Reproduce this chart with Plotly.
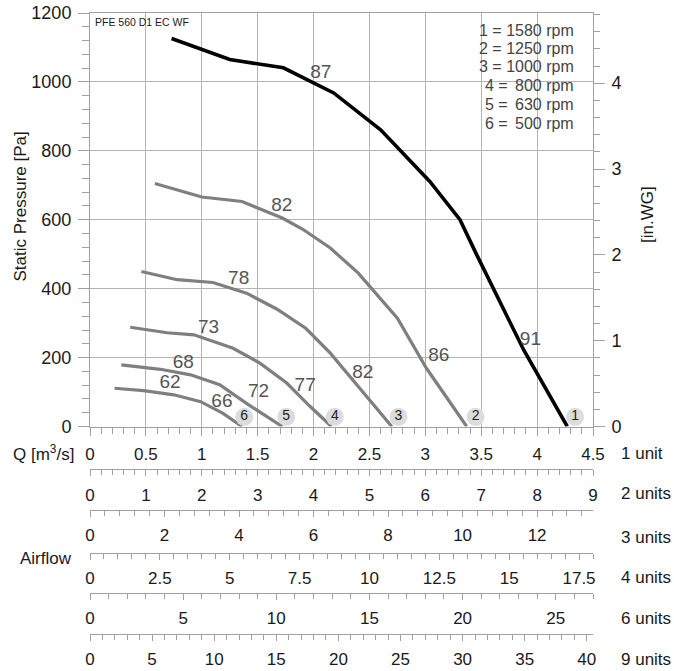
import plotly.graph_objects as go

# ---------------- data ----------------
speed_ids = ["1", "2", "3", "4", "5", "6"]
rpm_values = ["1580", "1250", "1000", "800", "630", "500"]

q1 = [0.73, 1.00, 1.25, 1.73, 2.18, 2.60, 3.04, 3.31, 3.46, 3.88, 4.27]
p1 = [1126, 1094, 1065, 1041, 968, 861, 711, 600, 498, 222, 0]
q2 = [0.58, 1.00, 1.36, 1.72, 1.90, 2.15, 2.40, 2.75, 3.01, 3.37]
p2 = [705, 666, 653, 605, 573, 518, 445, 314, 169, 0]
q3 = [0.46, 0.78, 1.10, 1.40, 1.67, 1.93, 2.15, 2.45, 2.70]
p3 = [450, 426, 418, 387, 341, 285, 213, 96, 0]
q4 = [0.36, 0.69, 0.93, 1.28, 1.52, 1.76, 1.97, 2.16]
p4 = [288, 272, 266, 227, 184, 126, 58, 0]
q5 = [0.28, 0.63, 0.90, 1.16, 1.40, 1.72]
p5 = [179, 166, 150, 121, 67, 0]
q6 = [0.22, 0.48, 0.75, 0.99, 1.19, 1.36]
p6 = [111, 104, 92, 72, 38, 0]

# sound level labels on the curves
label_text = ["87", "91", "82", "86", "78", "82", "73", "77", "68", "72", "62", "66"]
label_q = [2.065, 3.94, 1.716, 3.12, 1.33, 2.44, 1.06, 1.925, 0.835, 1.507, 0.716, 1.18]
label_p = [1024, 251, 639, 205, 428, 155, 285, 118, 184, 98, 125, 69]

# circled curve numbers
circle_q = [4.34, 3.45, 2.76, 2.19, 1.755, 1.38]
circle_p = [28, 28, 28, 28, 28, 28]

# airflow unit scales (multiplier of m3/s, major step, minor step)
unit_names = ["2 units", "3 units", "4 units", "6 units", "9 units"]
unit_factor = [2, 3, 4, 6, 9]
unit_major = [1, 2, 2.5, 5, 5]
unit_minor = [0.2, 0.4, 0.5, 1, 1]

PA_PER_INWG = 249.089
title_text = "PFE 560 D1 EC WF"

# ---------------- layout geometry ----------------
W, H = 674, 671
ML, MR, MT, MB = 90, 81, 13, 37
PH = H - MT - MB
def py(px):  # pixel y -> paper y
    return (H - MB - px) / PH
def pxx(px):  # pixel x -> paper x
    return (px - ML) / (W - ML - MR)

FONT = "Liberation Sans, Arial, Helvetica, sans-serif"
GRID = "#b4b4b4"
AX = "#a0a0a0"
TXT = "#1a1a1a"

main_bottom = py(426.5)
row_px = [469.3, 509.7, 553.0, 592.7, 634.0]

fig = go.Figure()

curves = [(q1, p1, "#000000", 3.6), (q2, p2, "#7f7f7f", 3.2), (q3, p3, "#7f7f7f", 3.2),
          (q4, p4, "#7f7f7f", 3.2), (q5, p5, "#7f7f7f", 3.2), (q6, p6, "#7f7f7f", 3.2)]
for q, p, c, w in curves:
    fig.add_trace(go.Scatter(x=q, y=p, mode="lines", line=dict(color=c, width=w),
                             showlegend=False, hoverinfo="skip"))

fig.add_trace(go.Scatter(x=label_q, y=label_p, mode="text", text=label_text,
                         textfont=dict(family=FONT, size=19, color="#555555"),
                         showlegend=False, hoverinfo="skip"))

fig.add_trace(go.Scatter(x=circle_q, y=circle_p, mode="markers+text", text=speed_ids,
                         marker=dict(size=18, color="#dcdcdc", line=dict(width=0)),
                         textposition="middle center",
                         textfont=dict(family=FONT, size=14, color="#222222"),
                         showlegend=False, hoverinfo="skip"))

# empty traces for the secondary axes
fig.add_trace(go.Scatter(x=[], y=[], yaxis="y2", showlegend=False, hoverinfo="skip"))
for i in range(len(unit_names)):
    fig.add_trace(go.Scatter(x=[], y=[], xaxis="x%d" % (i + 2), showlegend=False, hoverinfo="skip"))

tickfont = dict(family=FONT, size=17, color=TXT)

layout = dict(
    width=W, height=H,
    margin=dict(l=ML, r=MR, t=MT, b=MB, pad=0, autoexpand=False),
    paper_bgcolor="white", plot_bgcolor="white",
    showlegend=False,
    xaxis=dict(range=[0, 4.5], dtick=0.5, tick0=0, showgrid=True, gridcolor=GRID, gridwidth=1,
               showline=True, linecolor=AX, linewidth=1, mirror=True,
               ticks="outside", ticklen=8, tickcolor=AX,
               minor=dict(ticks="outside", ticklen=6, dtick=0.1, tick0=0, tickcolor=AX, showgrid=False),
               tickfont=tickfont, zeroline=False, anchor="y", ticklabelstandoff=4, automargin=False),
    yaxis=dict(range=[0, 1200], dtick=200, domain=[main_bottom, 1], showgrid=True, gridcolor=GRID,
               showline=True, linecolor=AX, ticks="outside", ticklen=11, tickcolor=AX,
               minor=dict(ticks="outside", ticklen=7, dtick=40, tick0=0, tickcolor=AX, showgrid=False),
               tickfont=dict(family=FONT, size=18, color=TXT), zeroline=False, ticklabelstandoff=3,
               automargin=False),
    yaxis2=dict(range=[0, 1200 / PA_PER_INWG], dtick=1, tick0=0, overlaying="y", side="right",
                domain=[main_bottom, 1], showgrid=False, showline=True, linecolor=AX,
                ticks="outside", ticklen=11, tickcolor=AX,
                minor=dict(ticks="outside", ticklen=6, dtick=0.2, tick0=0, tickcolor=AX),
                tickfont=dict(family=FONT, size=18, color=TXT), zeroline=False, anchor="x",
                ticklabelstandoff=3, automargin=False),
)
for i in range(len(unit_names)):
    f = unit_factor[i]
    layout["xaxis%d" % (i + 2)] = dict(
        range=[0, 4.5 * f], dtick=unit_major[i], tick0=0, overlaying="x", anchor="free",
        position=py(row_px[i]), side="bottom", showgrid=False, zeroline=False,
        showline=True, linecolor=AX, ticks="outside", ticklen=6, tickcolor=AX,
        minor=dict(ticks="outside", ticklen=5, dtick=unit_minor[i], tick0=0, tickcolor=AX),
        tickfont=tickfont, ticklabelstandoff=4, automargin=False)
fig.update_layout(**layout)

LEG = dict(family=FONT, size=16, color="#444444")
ann = []
ann.append(dict(text=title_text, x=pxx(93), y=py(21.7), xref="paper", yref="paper",
                xanchor="left", yanchor="middle", showarrow=False,
                font=dict(family=FONT, size=10.5, color=TXT)))
leg_y = [30.7, 48.3, 66.7, 86.0, 104.3, 123.3]
for i in range(len(speed_ids)):
    if len(rpm_values[i]) == 4:
        ann.append(dict(text=speed_ids[i] + " = " + rpm_values[i] + " rpm", x=pxx(575.5), y=py(leg_y[i]),
                        xref="paper", yref="paper", xanchor="right", yanchor="middle",
                        showarrow=False, font=LEG))
    else:
        ann.append(dict(text=speed_ids[i] + " =", x=pxx(483), y=py(leg_y[i]), xref="paper", yref="paper",
                        xanchor="left", yanchor="middle", showarrow=False, font=LEG))
        ann.append(dict(text=rpm_values[i] + " rpm", x=pxx(575.5), y=py(leg_y[i]), xref="paper",
                        yref="paper", xanchor="right", yanchor="middle", showarrow=False, font=LEG))
ann.append(dict(text="Static Pressure [Pa]", textangle=-90, x=pxx(20), y=py(206.5),
                xref="paper", yref="paper", xanchor="center", yanchor="middle", showarrow=False,
                font=dict(family=FONT, size=17, color=TXT)))
ann.append(dict(text="[in.WG]", textangle=-90, x=pxx(647), y=py(215),
                xref="paper", yref="paper", xanchor="center", yanchor="middle", showarrow=False,
                font=dict(family=FONT, size=17, color=TXT)))
ann.append(dict(text="Q [m<sup>3</sup>/s]", x=pxx(76), y=py(453), xref="paper", yref="paper",
                xanchor="right", yanchor="middle", showarrow=False,
                font=dict(family=FONT, size=17, color=TXT)))
ann.append(dict(text="Airflow", x=pxx(74), y=py(558), xref="paper", yref="paper",
                xanchor="right", yanchor="middle", showarrow=False,
                font=dict(family=FONT, size=17, color=TXT)))
unit_label_y = [453, 493, 537, 577, 618, 659]
all_units = ["1 unit"] + unit_names
for i, t in enumerate(all_units):
    ann.append(dict(text=t, x=pxx(619), y=py(unit_label_y[i]), xref="paper", yref="paper",
                    xanchor="left", yanchor="middle", showarrow=False,
                    font=dict(family=FONT, size=17, color=TXT)))
fig.update_layout(annotations=ann)

fig.write_html("out.html", config={"displayModeBar": False},
               post_script="document.body.style.margin='0px';")
